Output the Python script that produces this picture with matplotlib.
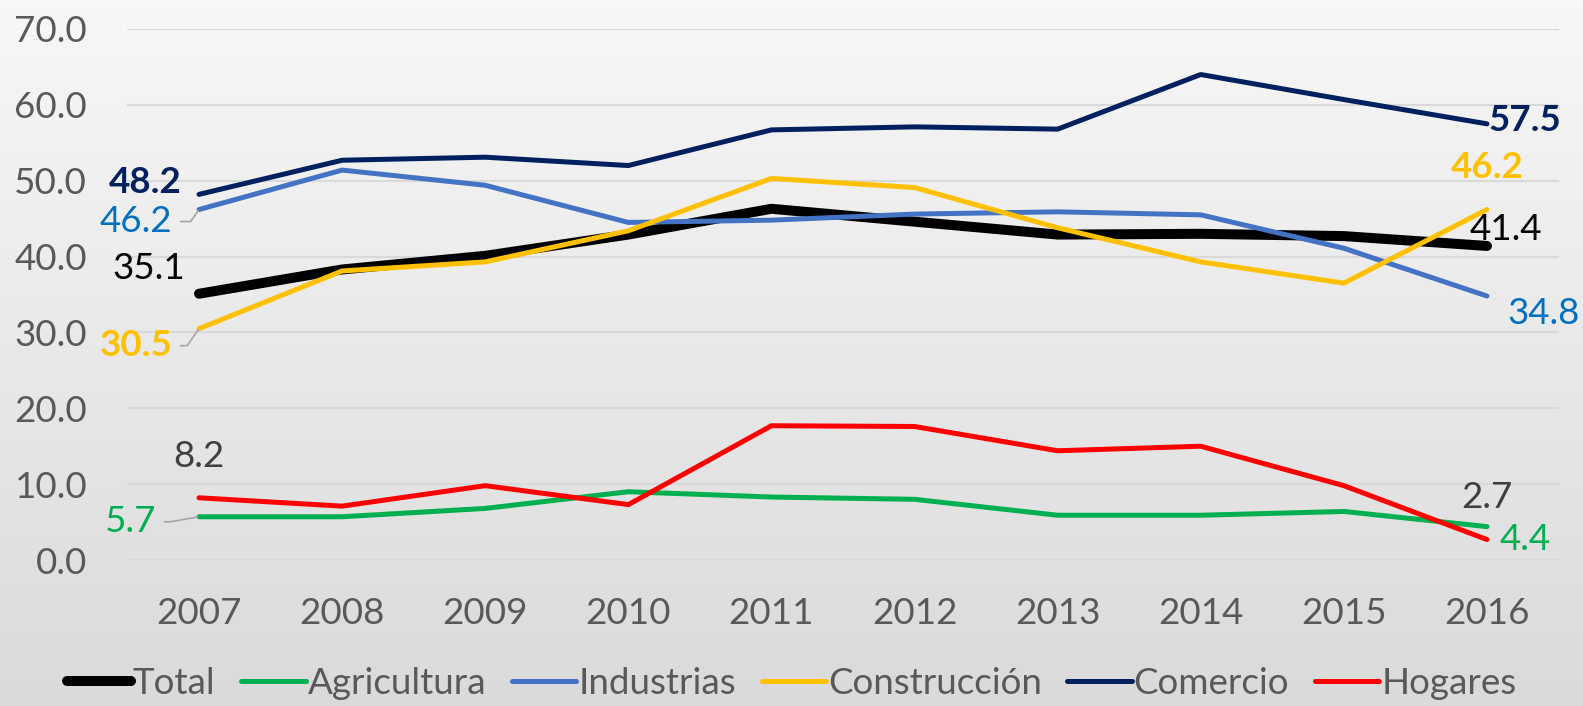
import matplotlib
matplotlib.use("Agg")
import matplotlib.pyplot as plt
import numpy as np

plt.rcParams['font.family'] = ['Lato', 'DejaVu Sans']

years = [2007, 2008, 2009, 2010, 2011, 2012, 2013, 2014, 2015, 2016]
total = [35.1, 38.3, 40.1, 42.9, 46.3, 44.6, 42.9, 43.0, 42.7, 41.4]
agricultura = [5.7, 5.7, 6.8, 9.0, 8.3, 8.0, 5.9, 5.9, 6.4, 4.4]
industrias = [46.2, 51.4, 49.4, 44.5, 44.8, 45.6, 45.9, 45.5, 41.1, 34.8]
construccion = [30.5, 38.1, 39.3, 43.4, 50.3, 49.1, 43.8, 39.3, 36.5, 46.2]
comercio = [48.2, 52.7, 53.1, 52.0, 56.7, 57.1, 56.8, 64.0, 60.7, 57.5]
hogares = [8.2, 7.1, 9.8, 7.3, 17.7, 17.6, 14.4, 15.0, 9.8, 2.7]

names = ['Total', 'Agricultura', 'Industrias', 'Construcción', 'Comercio', 'Hogares']
series = [total, agricultura, industrias, construccion, comercio, hogares]
colors = ['#000000', '#00B050', '#4472C4', '#FFC000', '#002060', '#FF0000']
widths = [7.2, 3.6, 3.6, 3.6, 3.6, 3.6]

# label style per series: (color, weight, first offset, first ha, leader angle, last offset, last ha)
label_style = {
    'Total': ('#000000', 'normal', (-14, 25), 'right', None, (19, 16), 'center'),
    'Agricultura': ('#00B050', 'normal', (-43, -5), 'right', 10, (13, -13), 'left'),
    'Industrias': ('#0070C0', 'normal', (-27, -12), 'right', 55, (20, -17), 'left'),
    'Construcción': ('#FFC000', 'bold', (-27, -17), 'right', 55, (0, 42), 'center'),
    'Comercio': ('#002060', 'bold', (-17, 12), 'right', None, (1, 3), 'left'),
    'Hogares': ('#404040', 'normal', (0, 41), 'center', None, (0, 42), 'center'),
}
fs = 26.5

fig = plt.figure(figsize=(15.83, 7.06), dpi=100)

# background gradient
bg = fig.add_axes([0, 0, 1, 1], zorder=-10)
grad = np.linspace(0.97, 0.855, 256).reshape(-1, 1)
bg.imshow(np.dstack([grad, grad, grad]), aspect='auto', extent=[0, 1, 0, 1])
bg.axis('off')

ax = fig.add_axes([127.5 / 1583, 146 / 706, 1431 / 1583, 531 / 706])
ax.set_facecolor('none')

x = np.arange(len(years))
for name, vals, c, lw in zip(names, series, colors, widths):
    ax.plot(x, vals, color=c, lw=lw, solid_capstyle='round', solid_joinstyle='round', label=name)

for name, vals in zip(names, series):
    col, wt, off0, ha0, lead, off1, ha1 = label_style[name]
    arrow = None
    if lead is not None:
        arrow = dict(arrowstyle='-', color='#A6A6A6', lw=1.2, shrinkA=4, shrinkB=1,
                     connectionstyle=f'angle,angleA=0,angleB={lead},rad=0')
    ax.annotate(f'{vals[0]:.1f}', (x[0], vals[0]), xytext=off0, textcoords='offset pixels',
                ha=ha0, va='center', fontsize=fs, color=col, fontweight=wt, arrowprops=arrow)
    ax.annotate(f'{vals[-1]:.1f}', (x[-1], vals[-1]), xytext=off1, textcoords='offset pixels',
                ha=ha1, va='center', fontsize=fs, color=col, fontweight=wt)

ax.set_xlim(-0.5, len(years) - 0.5)
ax.set_ylim(0, 70)
ax.set_yticks(np.arange(0, 71, 10))
ax.set_yticklabels([f'{v:.1f}' for v in np.arange(0, 71, 10)])
ax.set_xticks(x)
ax.set_xticklabels([str(y) for y in years])
ax.tick_params(length=0, labelsize=fs, labelcolor='#595959')
ax.tick_params(axis='y', pad=29)
ax.tick_params(axis='x', pad=27)
ax.grid(axis='y', color='#D9D9D9', lw=1.5)
ax.set_axisbelow(True)
for s in ax.spines.values():
    s.set_visible(False)

handles, labels = ax.get_legend_handles_labels()
leg = fig.legend(handles, labels, loc='center', bbox_to_anchor=(0.5, 1 - 683 / 706), ncol=6,
                 frameon=False, fontsize=fs, handlelength=1.75, handletextpad=0.05,
                 columnspacing=0.7)
for t in leg.get_texts():
    t.set_color('#595959')

fig.savefig('out.png', dpi=100)
